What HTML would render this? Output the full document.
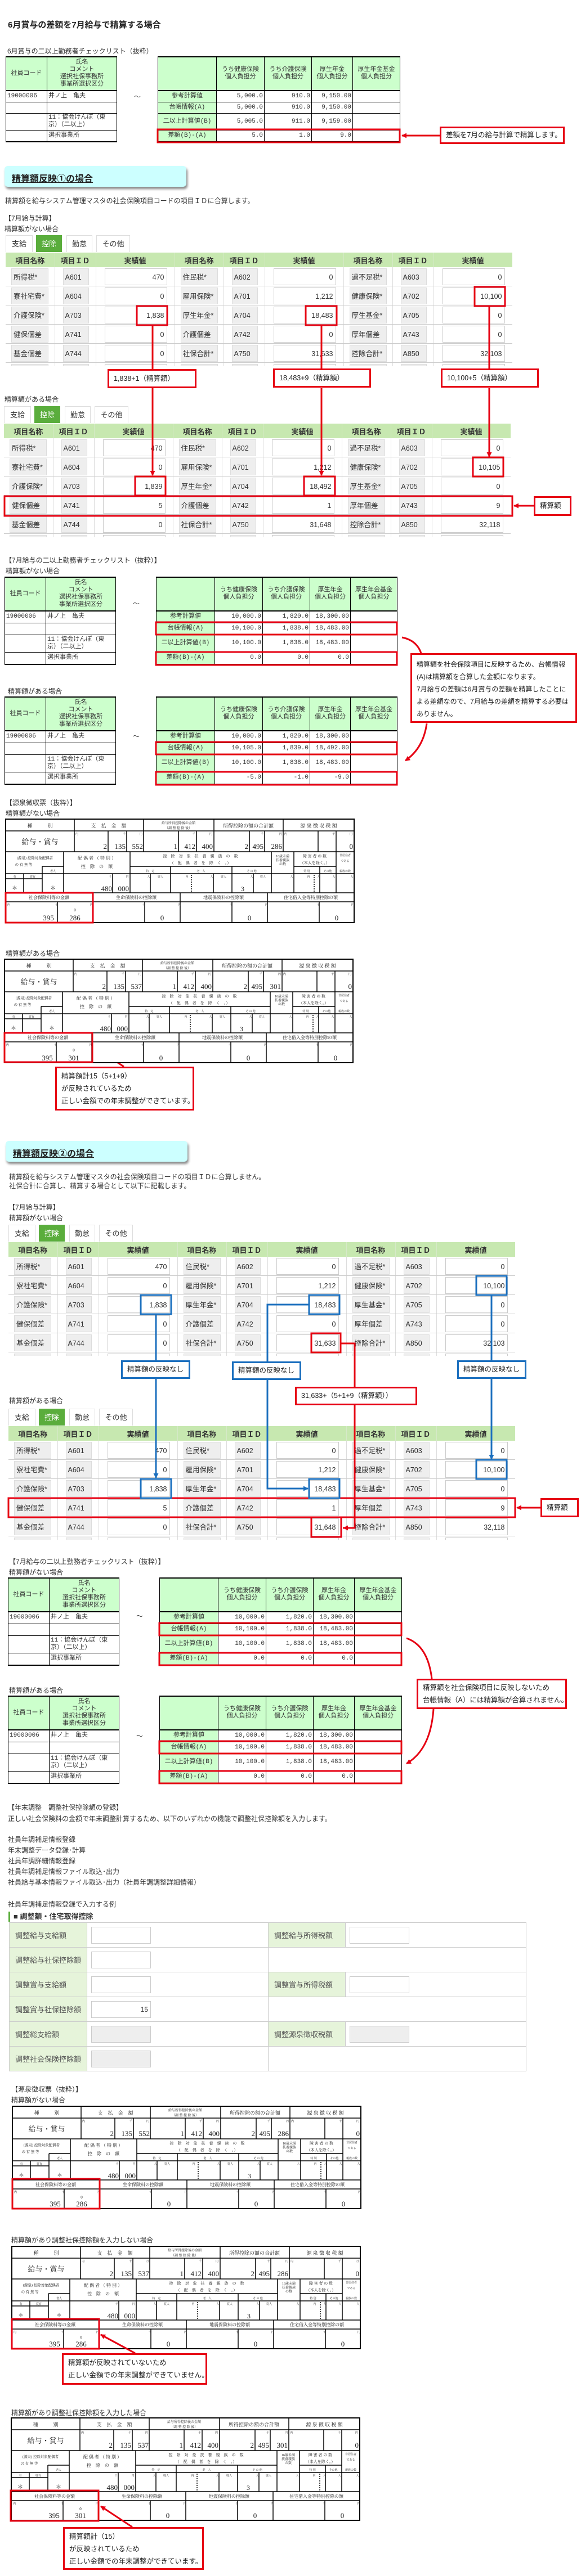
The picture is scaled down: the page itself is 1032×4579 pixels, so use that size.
<!DOCTYPE html>
<html><head><meta charset="utf-8">
<style>
body{margin:0;background:#fff}
#p{position:relative;width:1032px;height:4579px;overflow:hidden;font-family:"Liberation Sans","Noto Sans CJK JP",sans-serif;color:#333}
.a{position:absolute}
.t{position:absolute;font-size:12px;line-height:14px;white-space:nowrap;color:#333}
.h1{position:absolute;font-size:15px;font-weight:bold;color:#222;white-space:nowrap}
.sec{position:absolute;width:323px;height:37px;background:#ccffff;border-radius:6px;box-shadow:2px 4px 4px #888}
.sec span{position:absolute;left:13px;top:9px;font-size:16px;font-weight:bold;text-decoration:underline;color:#222}
.g{position:absolute;width:900px;height:233px;overflow:hidden}
.tb{position:absolute;top:0;height:30px;border:1px solid #ddd;border-bottom:none;box-sizing:border-box;font-size:13px;line-height:29px;text-align:center;background:#fff}
.tb.on{background:#5aad3c;color:#fff;border-color:#5aad3c}
.g table{position:absolute;top:31px;left:0;border-collapse:collapse;table-layout:fixed;width:900px;font-size:12.5px}
.g th{background:#c7e8b0;height:26px;font-weight:bold;font-size:13px;padding:0;border-right:1px solid #d6e9c8;color:#333}
.g td{height:33px;padding:0;border-bottom:1px solid #ccc;border-right:1px solid #ddd}
.g b{display:block;font-weight:normal;height:30px;line-height:30px;box-sizing:border-box;background:#eee;border:1px solid #ddd;padding-left:3px;white-space:nowrap;overflow:hidden}
.g .n{margin-left:10px;width:66px}
.g .i{margin-left:14px;width:46px}
.g .v{margin-left:15px;width:111px;background:#fff;border-color:#ccc;text-align:right;padding-right:4px}
.cl{position:absolute;border-collapse:collapse;table-layout:fixed;font-family:"Liberation Mono","Noto Sans CJK JP",monospace;font-size:11px;border-top:2px solid #000;border-bottom:2px solid #000}
.cl td{border:1px solid #000;padding:0 2px;line-height:13px;white-space:nowrap;overflow:hidden}
.cl .hd td{background:#ccffcc;text-align:center;border-bottom:2px solid #000}
.cl .lb{background:#ccffcc;text-align:center}
.cl .r{text-align:right}
.co{position:absolute;border:3px solid #e60012;background:#fff;font-size:12.5px;box-sizing:border-box;padding:0 8px;line-height:22px;white-space:nowrap;color:#222}
.cb{position:absolute;border:3px solid #1b6fbe;background:#fff;font-size:12.5px;box-sizing:border-box;padding:0 8px;line-height:27px;white-space:nowrap;color:#222}
.fm{position:absolute;border-collapse:collapse;table-layout:fixed;width:918px;font-size:13px}
.fm th{background:#e6f4da;color:#555;font-weight:normal;text-align:left;padding-left:10px;height:41px;border:1px solid #ccc}
.fm td{border:1px solid #ccc;padding:0}
.fm i{display:block;width:106px;height:30px;border:1px solid #ccc;margin-left:7px;box-sizing:border-box;font-style:normal;text-align:right;padding-right:4px;line-height:28px;font-size:12px}
.fm i.gr{background:#eee}
svg text{font-family:"Liberation Serif","Noto Serif CJK SC",serif;fill:#222}
</style></head><body><div id="p">

<div class="h1" style="left:14px;top:33px">6月賞与の差額を7月給与で精算する場合</div>
<div class="t" style="left:13px;top:84px">6月賞与の二以上勤務者チェックリスト（抜粋）</div>

<!-- pair0 -->
<table class="cl" style="left:10px;top:100px;width:197px"><col style="width:73px"><col style="width:124px">
<tr class="hd" style="height:60px"><td>社員コード</td><td>氏名<br>コメント<br>選択社保事務所<br>事業所選択区分</td></tr>
<tr style="height:20px"><td>19000006</td><td>井ノ上　亀夫</td></tr><tr style="height:20px"><td></td><td></td></tr>
<tr style="height:30px"><td></td><td>11：協会けんぽ（東<br>京）（二以上）</td></tr><tr style="height:21px"><td></td><td>選択事業所</td></tr></table>
<div class="t" style="left:238px;top:165px">～</div>
<table class="cl" style="left:280px;top:100px;width:430px"><col style="width:104px"><col style="width:85px"><col style="width:84px"><col style="width:73px"><col style="width:84px">
<tr class="hd" style="height:60px"><td></td><td>うち健康保険<br>個人負担分</td><td>うち介護保険<br>個人負担分</td><td>厚生年金<br>個人負担分</td><td>厚生年金基金<br>個人負担分</td></tr>
<tr style="height:20px"><td class="lb">参考計算値</td><td class="r">5,000.0</td><td class="r">910.0</td><td class="r">9,150.00</td><td></td></tr>
<tr style="height:20px"><td class="lb">台帳情報(A)</td><td class="r">5,000.0</td><td class="r">910.0</td><td class="r">9,150.00</td><td></td></tr>
<tr style="height:30px"><td class="lb">二以上計算値(B)</td><td class="r">5,005.0</td><td class="r">911.0</td><td class="r">9,159.00</td><td></td></tr>
<tr style="height:21px"><td class="lb">差額(B)-(A)</td><td class="r">5.0</td><td class="r">1.0</td><td class="r">9.0</td><td></td></tr></table>

<div class="sec" style="left:8px;top:295px"><span>精算額反映①の場合</span></div>
<div class="t" style="left:9px;top:350px">精算額を給与システム管理マスタの社会保険項目コードの項目ＩＤに合算します。</div>
<div class="t" style="left:8px;top:381px">【7月給与計算】</div>
<div class="t" style="left:8px;top:400px">精算額がない場合</div>

<!-- grid1 -->
<div class="g" style="left:10px;top:418px">
<div class="tb" style="left:0;width:48px">支給</div><div class="tb on" style="left:54px;width:46px">控除</div><div class="tb" style="left:108px;width:46px">勤怠</div><div class="tb" style="left:161px;width:60px">その他</div>
<table><col style="width:87px"><col style="width:73px"><col style="width:140px"><col style="width:87px"><col style="width:73px"><col style="width:140px"><col style="width:87px"><col style="width:73px"><col style="width:140px">
<tr><th>項目名称</th><th>項目ＩＤ</th><th>実績値</th><th>項目名称</th><th>項目ＩＤ</th><th>実績値</th><th>項目名称</th><th>項目ＩＤ</th><th>実績値</th></tr>
<tr><td><b class="n">所得税*</b></td><td><b class="i">A601</b></td><td><b class="v">470</b></td><td><b class="n">住民税*</b></td><td><b class="i">A602</b></td><td><b class="v">0</b></td><td><b class="n">過不足税*</b></td><td><b class="i">A603</b></td><td><b class="v">0</b></td></tr>
<tr><td><b class="n">寮社宅費*</b></td><td><b class="i">A604</b></td><td><b class="v">0</b></td><td><b class="n">雇用保険*</b></td><td><b class="i">A701</b></td><td><b class="v">1,212</b></td><td><b class="n">健康保険*</b></td><td><b class="i">A702</b></td><td><b class="v">10,100</b></td></tr>
<tr><td><b class="n">介護保険*</b></td><td><b class="i">A703</b></td><td><b class="v">1,838</b></td><td><b class="n">厚生年金*</b></td><td><b class="i">A704</b></td><td><b class="v">18,483</b></td><td><b class="n">厚生基金*</b></td><td><b class="i">A705</b></td><td><b class="v">0</b></td></tr>
<tr><td><b class="n">健保個差</b></td><td><b class="i">A741</b></td><td><b class="v">0</b></td><td><b class="n">介護個差</b></td><td><b class="i">A742</b></td><td><b class="v">0</b></td><td><b class="n">厚年個差</b></td><td><b class="i">A743</b></td><td><b class="v">0</b></td></tr>
<tr><td><b class="n">基金個差</b></td><td><b class="i">A744</b></td><td><b class="v">0</b></td><td><b class="n">社保合計*</b></td><td><b class="i">A750</b></td><td><b class="v">31,633</b></td><td><b class="n">控除合計*</b></td><td><b class="i">A850</b></td><td><b class="v">32,103</b></td></tr>
<tr><td><b class="n"></b></td><td><b class="i"></b></td><td><b class="v"></b></td><td><b class="n"></b></td><td><b class="i"></b></td><td><b class="v"></b></td><td><b class="n"></b></td><td><b class="i"></b></td><td><b class="v"></b></td></tr>
</table></div>

<div class="t" style="left:8px;top:703px">精算額がある場合</div>
<!-- grid2 -->
<div class="g" style="left:7px;top:722px">
<div class="tb" style="left:0;width:48px">支給</div><div class="tb on" style="left:54px;width:46px">控除</div><div class="tb" style="left:108px;width:46px">勤怠</div><div class="tb" style="left:161px;width:60px">その他</div>
<table><col style="width:87px"><col style="width:73px"><col style="width:140px"><col style="width:87px"><col style="width:73px"><col style="width:140px"><col style="width:87px"><col style="width:73px"><col style="width:140px">
<tr><th>項目名称</th><th>項目ＩＤ</th><th>実績値</th><th>項目名称</th><th>項目ＩＤ</th><th>実績値</th><th>項目名称</th><th>項目ＩＤ</th><th>実績値</th></tr>
<tr><td><b class="n">所得税*</b></td><td><b class="i">A601</b></td><td><b class="v">470</b></td><td><b class="n">住民税*</b></td><td><b class="i">A602</b></td><td><b class="v">0</b></td><td><b class="n">過不足税*</b></td><td><b class="i">A603</b></td><td><b class="v">0</b></td></tr>
<tr><td><b class="n">寮社宅費*</b></td><td><b class="i">A604</b></td><td><b class="v">0</b></td><td><b class="n">雇用保険*</b></td><td><b class="i">A701</b></td><td><b class="v">1,212</b></td><td><b class="n">健康保険*</b></td><td><b class="i">A702</b></td><td><b class="v">10,105</b></td></tr>
<tr><td><b class="n">介護保険*</b></td><td><b class="i">A703</b></td><td><b class="v">1,839</b></td><td><b class="n">厚生年金*</b></td><td><b class="i">A704</b></td><td><b class="v">18,492</b></td><td><b class="n">厚生基金*</b></td><td><b class="i">A705</b></td><td><b class="v">0</b></td></tr>
<tr><td><b class="n">健保個差</b></td><td><b class="i">A741</b></td><td><b class="v">5</b></td><td><b class="n">介護個差</b></td><td><b class="i">A742</b></td><td><b class="v">1</b></td><td><b class="n">厚年個差</b></td><td><b class="i">A743</b></td><td><b class="v">9</b></td></tr>
<tr><td><b class="n">基金個差</b></td><td><b class="i">A744</b></td><td><b class="v">0</b></td><td><b class="n">社保合計*</b></td><td><b class="i">A750</b></td><td><b class="v">31,648</b></td><td><b class="n">控除合計*</b></td><td><b class="i">A850</b></td><td><b class="v">32,118</b></td></tr>
<tr><td><b class="n"></b></td><td><b class="i"></b></td><td><b class="v"></b></td><td><b class="n"></b></td><td><b class="i"></b></td><td><b class="v"></b></td><td><b class="n"></b></td><td><b class="i"></b></td><td><b class="v"></b></td></tr>
</table></div>

<div class="t" style="left:9px;top:989px">【7月給与の二以上勤務者チェックリスト（抜粋）】</div>
<div class="t" style="left:10px;top:1008px">精算額がない場合</div>
<!-- pair1 -->
<table class="cl" style="left:8px;top:1025px;width:197px"><col style="width:73px"><col style="width:124px">
<tr class="hd" style="height:60px"><td>社員コード</td><td>氏名<br>コメント<br>選択社保事務所<br>事業所選択区分</td></tr>
<tr style="height:21px"><td>19000006</td><td>井ノ上　亀夫</td></tr><tr style="height:21px"><td></td><td></td></tr>
<tr style="height:31px"><td></td><td>11：協会けんぽ（東<br>京）（二以上）</td></tr><tr style="height:22px"><td></td><td>選択事業所</td></tr></table>
<div class="t" style="left:236px;top:1066px">～</div>
<table class="cl" style="left:277px;top:1025px;width:428px"><col style="width:104px"><col style="width:85px"><col style="width:84px"><col style="width:72px"><col style="width:83px">
<tr class="hd" style="height:60px"><td></td><td>うち健康保険<br>個人負担分</td><td>うち介護保険<br>個人負担分</td><td>厚生年金<br>個人負担分</td><td>厚生年金基金<br>個人負担分</td></tr>
<tr style="height:21px"><td class="lb">参考計算値</td><td class="r">10,000.0</td><td class="r">1,820.0</td><td class="r">18,300.00</td><td></td></tr>
<tr style="height:21px"><td class="lb">台帳情報(A)</td><td class="r">10,100.0</td><td class="r">1,838.0</td><td class="r">18,483.00</td><td></td></tr>
<tr style="height:31px"><td class="lb">二以上計算値(B)</td><td class="r">10,100.0</td><td class="r">1,838.0</td><td class="r">18,483.00</td><td></td></tr>
<tr style="height:22px"><td class="lb">差額(B)-(A)</td><td class="r">0.0</td><td class="r">0.0</td><td class="r">0.0</td><td></td></tr></table>

<div class="t" style="left:14px;top:1222px">精算額がある場合</div>
<!-- pair2 -->
<table class="cl" style="left:8px;top:1238px;width:197px"><col style="width:73px"><col style="width:124px">
<tr class="hd" style="height:60px"><td>社員コード</td><td>氏名<br>コメント<br>選択社保事務所<br>事業所選択区分</td></tr>
<tr style="height:21px"><td>19000006</td><td>井ノ上　亀夫</td></tr><tr style="height:21px"><td></td><td></td></tr>
<tr style="height:31px"><td></td><td>11：協会けんぽ（東<br>京）（二以上）</td></tr><tr style="height:22px"><td></td><td>選択事業所</td></tr></table>
<div class="t" style="left:236px;top:1302px">～</div>
<table class="cl" style="left:277px;top:1238px;width:428px"><col style="width:104px"><col style="width:85px"><col style="width:84px"><col style="width:72px"><col style="width:83px">
<tr class="hd" style="height:60px"><td></td><td>うち健康保険<br>個人負担分</td><td>うち介護保険<br>個人負担分</td><td>厚生年金<br>個人負担分</td><td>厚生年金基金<br>個人負担分</td></tr>
<tr style="height:21px"><td class="lb">参考計算値</td><td class="r">10,000.0</td><td class="r">1,820.0</td><td class="r">18,300.00</td><td></td></tr>
<tr style="height:21px"><td class="lb">台帳情報(A)</td><td class="r">10,105.0</td><td class="r">1,839.0</td><td class="r">18,492.00</td><td></td></tr>
<tr style="height:31px"><td class="lb">二以上計算値(B)</td><td class="r">10,100.0</td><td class="r">1,838.0</td><td class="r">18,483.00</td><td></td></tr>
<tr style="height:22px"><td class="lb">差額(B)-(A)</td><td class="r">-5.0</td><td class="r">-1.0</td><td class="r">-9.0</td><td></td></tr></table>

<div class="t" style="left:10px;top:1420px">【源泉徴収票（抜粋）】</div>
<div class="t" style="left:10px;top:1439px">精算額がない場合</div>
<div class="t" style="left:10px;top:1688px">精算額がある場合</div>

<div class="sec" style="left:10px;top:2028px"><span>精算額反映②の場合</span></div>
<div class="t" style="left:16px;top:2085px">精算額を給与システム管理マスタの社会保険項目コードの項目ＩＤに合算しません。</div>
<div class="t" style="left:16px;top:2101px">社保合計に合算し、精算する場合として以下に記載します。</div>
<div class="t" style="left:15px;top:2139px">【7月給与計算】</div>
<div class="t" style="left:16px;top:2158px">精算額がない場合</div>

<!-- grid3 -->
<div class="g" style="left:15px;top:2177px">
<div class="tb" style="left:0;width:48px">支給</div><div class="tb on" style="left:54px;width:46px">控除</div><div class="tb" style="left:108px;width:46px">勤怠</div><div class="tb" style="left:161px;width:60px">その他</div>
<table><col style="width:87px"><col style="width:73px"><col style="width:140px"><col style="width:87px"><col style="width:73px"><col style="width:140px"><col style="width:87px"><col style="width:73px"><col style="width:140px">
<tr><th>項目名称</th><th>項目ＩＤ</th><th>実績値</th><th>項目名称</th><th>項目ＩＤ</th><th>実績値</th><th>項目名称</th><th>項目ＩＤ</th><th>実績値</th></tr>
<tr><td><b class="n">所得税*</b></td><td><b class="i">A601</b></td><td><b class="v">470</b></td><td><b class="n">住民税*</b></td><td><b class="i">A602</b></td><td><b class="v">0</b></td><td><b class="n">過不足税*</b></td><td><b class="i">A603</b></td><td><b class="v">0</b></td></tr>
<tr><td><b class="n">寮社宅費*</b></td><td><b class="i">A604</b></td><td><b class="v">0</b></td><td><b class="n">雇用保険*</b></td><td><b class="i">A701</b></td><td><b class="v">1,212</b></td><td><b class="n">健康保険*</b></td><td><b class="i">A702</b></td><td><b class="v">10,100</b></td></tr>
<tr><td><b class="n">介護保険*</b></td><td><b class="i">A703</b></td><td><b class="v">1,838</b></td><td><b class="n">厚生年金*</b></td><td><b class="i">A704</b></td><td><b class="v">18,483</b></td><td><b class="n">厚生基金*</b></td><td><b class="i">A705</b></td><td><b class="v">0</b></td></tr>
<tr><td><b class="n">健保個差</b></td><td><b class="i">A741</b></td><td><b class="v">0</b></td><td><b class="n">介護個差</b></td><td><b class="i">A742</b></td><td><b class="v">0</b></td><td><b class="n">厚年個差</b></td><td><b class="i">A743</b></td><td><b class="v">0</b></td></tr>
<tr><td><b class="n">基金個差</b></td><td><b class="i">A744</b></td><td><b class="v">0</b></td><td><b class="n">社保合計*</b></td><td><b class="i">A750</b></td><td><b class="v">31,633</b></td><td><b class="n">控除合計*</b></td><td><b class="i">A850</b></td><td><b class="v">32,103</b></td></tr>
<tr><td><b class="n"></b></td><td><b class="i"></b></td><td><b class="v"></b></td><td><b class="n"></b></td><td><b class="i"></b></td><td><b class="v"></b></td><td><b class="n"></b></td><td><b class="i"></b></td><td><b class="v"></b></td></tr>
</table></div>

<div class="t" style="left:16px;top:2483px">精算額がある場合</div>
<!-- grid4 -->
<div class="g" style="left:15px;top:2504px">
<div class="tb" style="left:0;width:48px">支給</div><div class="tb on" style="left:54px;width:46px">控除</div><div class="tb" style="left:108px;width:46px">勤怠</div><div class="tb" style="left:161px;width:60px">その他</div>
<table><col style="width:87px"><col style="width:73px"><col style="width:140px"><col style="width:87px"><col style="width:73px"><col style="width:140px"><col style="width:87px"><col style="width:73px"><col style="width:140px">
<tr><th>項目名称</th><th>項目ＩＤ</th><th>実績値</th><th>項目名称</th><th>項目ＩＤ</th><th>実績値</th><th>項目名称</th><th>項目ＩＤ</th><th>実績値</th></tr>
<tr><td><b class="n">所得税*</b></td><td><b class="i">A601</b></td><td><b class="v">470</b></td><td><b class="n">住民税*</b></td><td><b class="i">A602</b></td><td><b class="v">0</b></td><td><b class="n">過不足税*</b></td><td><b class="i">A603</b></td><td><b class="v">0</b></td></tr>
<tr><td><b class="n">寮社宅費*</b></td><td><b class="i">A604</b></td><td><b class="v">0</b></td><td><b class="n">雇用保険*</b></td><td><b class="i">A701</b></td><td><b class="v">1,212</b></td><td><b class="n">健康保険*</b></td><td><b class="i">A702</b></td><td><b class="v">10,100</b></td></tr>
<tr><td><b class="n">介護保険*</b></td><td><b class="i">A703</b></td><td><b class="v">1,838</b></td><td><b class="n">厚生年金*</b></td><td><b class="i">A704</b></td><td><b class="v">18,483</b></td><td><b class="n">厚生基金*</b></td><td><b class="i">A705</b></td><td><b class="v">0</b></td></tr>
<tr><td><b class="n">健保個差</b></td><td><b class="i">A741</b></td><td><b class="v">5</b></td><td><b class="n">介護個差</b></td><td><b class="i">A742</b></td><td><b class="v">1</b></td><td><b class="n">厚年個差</b></td><td><b class="i">A743</b></td><td><b class="v">9</b></td></tr>
<tr><td><b class="n">基金個差</b></td><td><b class="i">A744</b></td><td><b class="v">0</b></td><td><b class="n">社保合計*</b></td><td><b class="i">A750</b></td><td><b class="v">31,648</b></td><td><b class="n">控除合計*</b></td><td><b class="i">A850</b></td><td><b class="v">32,118</b></td></tr>
<tr><td><b class="n"></b></td><td><b class="i"></b></td><td><b class="v"></b></td><td><b class="n"></b></td><td><b class="i"></b></td><td><b class="v"></b></td><td><b class="n"></b></td><td><b class="i"></b></td><td><b class="v"></b></td></tr>
</table></div>

<div class="t" style="left:16px;top:2769px">【7月給与の二以上勤務者チェックリスト（抜粋）】</div>
<div class="t" style="left:16px;top:2788px">精算額がない場合</div>
<!-- pair3 -->
<table class="cl" style="left:14px;top:2804px;width:197px"><col style="width:73px"><col style="width:124px">
<tr class="hd" style="height:60px"><td>社員コード</td><td>氏名<br>コメント<br>選択社保事務所<br>事業所選択区分</td></tr>
<tr style="height:21px"><td>19000006</td><td>井ノ上　亀夫</td></tr><tr style="height:21px"><td></td><td></td></tr>
<tr style="height:31px"><td></td><td>11：協会けんぽ（東<br>京）（二以上）</td></tr><tr style="height:22px"><td></td><td>選択事業所</td></tr></table>
<div class="t" style="left:242px;top:2866px">～</div>
<table class="cl" style="left:283px;top:2804px;width:430px"><col style="width:104px"><col style="width:85px"><col style="width:84px"><col style="width:73px"><col style="width:84px">
<tr class="hd" style="height:60px"><td></td><td>うち健康保険<br>個人負担分</td><td>うち介護保険<br>個人負担分</td><td>厚生年金<br>個人負担分</td><td>厚生年金基金<br>個人負担分</td></tr>
<tr style="height:21px"><td class="lb">参考計算値</td><td class="r">10,000.0</td><td class="r">1,820.0</td><td class="r">18,300.00</td><td></td></tr>
<tr style="height:21px"><td class="lb">台帳情報(A)</td><td class="r">10,100.0</td><td class="r">1,838.0</td><td class="r">18,483.00</td><td></td></tr>
<tr style="height:31px"><td class="lb">二以上計算値(B)</td><td class="r">10,100.0</td><td class="r">1,838.0</td><td class="r">18,483.00</td><td></td></tr>
<tr style="height:22px"><td class="lb">差額(B)-(A)</td><td class="r">0.0</td><td class="r">0.0</td><td class="r">0.0</td><td></td></tr></table>

<div class="t" style="left:16px;top:2998px">精算額がある場合</div>
<!-- pair4 -->
<table class="cl" style="left:14px;top:3014px;width:197px"><col style="width:73px"><col style="width:124px">
<tr class="hd" style="height:60px"><td>社員コード</td><td>氏名<br>コメント<br>選択社保事務所<br>事業所選択区分</td></tr>
<tr style="height:21px"><td>19000006</td><td>井ノ上　亀夫</td></tr><tr style="height:21px"><td></td><td></td></tr>
<tr style="height:31px"><td></td><td>11：協会けんぽ（東<br>京）（二以上）</td></tr><tr style="height:22px"><td></td><td>選択事業所</td></tr></table>
<div class="t" style="left:242px;top:3079px">～</div>
<table class="cl" style="left:283px;top:3014px;width:430px"><col style="width:104px"><col style="width:85px"><col style="width:84px"><col style="width:73px"><col style="width:84px">
<tr class="hd" style="height:60px"><td></td><td>うち健康保険<br>個人負担分</td><td>うち介護保険<br>個人負担分</td><td>厚生年金<br>個人負担分</td><td>厚生年金基金<br>個人負担分</td></tr>
<tr style="height:21px"><td class="lb">参考計算値</td><td class="r">10,000.0</td><td class="r">1,820.0</td><td class="r">18,300.00</td><td></td></tr>
<tr style="height:21px"><td class="lb">台帳情報(A)</td><td class="r">10,100.0</td><td class="r">1,838.0</td><td class="r">18,483.00</td><td></td></tr>
<tr style="height:31px"><td class="lb">二以上計算値(B)</td><td class="r">10,100.0</td><td class="r">1,838.0</td><td class="r">18,483.00</td><td></td></tr>
<tr style="height:22px"><td class="lb">差額(B)-(A)</td><td class="r">0.0</td><td class="r">0.0</td><td class="r">0.0</td><td></td></tr></table>

<div class="t" style="left:14px;top:3206px">【年末調整　調整社保控除額の登録】</div>
<div class="t" style="left:14px;top:3226px">正しい社会保険料の金額で年末調整計算するため、以下のいずれかの機能で調整社保控除額を入力します。</div>
<div class="t" style="left:14px;top:3263px">社員年調補足情報登録</div>
<div class="t" style="left:14px;top:3282px">年末調整データ登録･計算</div>
<div class="t" style="left:14px;top:3301px">社員年調詳細情報登録</div>
<div class="t" style="left:14px;top:3320px">社員年調補足情報ファイル取込･出力</div>
<div class="t" style="left:14px;top:3339px">社員給与基本情報ファイル取込･出力（社員年調調整詳細情報）</div>
<div class="t" style="left:14px;top:3378px">社員年調補足情報登録で入力する例</div>
<div class="a" style="left:15px;top:3398px;width:3px;height:18px;background:#5aad3c"></div>
<div class="t" style="left:24px;top:3400px;font-size:13px;font-weight:bold">■ 調整額・住宅取得控除</div>
<table class="fm" style="left:16px;top:3417px"><col style="width:138px"><col style="width:322px"><col style="width:137px"><col style="width:321px">
<tr><th>調整給与支給額</th><td><i></i></td><th>調整給与所得税額</th><td><i></i></td></tr>
<tr><th>調整給与社保控除額</th><td><i></i></td><td colspan="2"></td></tr>
<tr><th>調整賞与支給額</th><td><i></i></td><th>調整賞与所得税額</th><td><i></i></td></tr>
<tr><th>調整賞与社保控除額</th><td><i>15</i></td><td colspan="2"></td></tr>
<tr><th>調整総支給額</th><td><i class="gr"></i></td><th>調整源泉徴収税額</th><td><i class="gr"></i></td></tr>
<tr><th>調整社会保険控除額</th><td><i class="gr"></i></td><td colspan="2"></td></tr>
</table>

<div class="t" style="left:20px;top:3707px">【源泉徴収票（抜粋）】</div>
<div class="t" style="left:20px;top:3726px">精算額がない場合</div>
<div class="t" style="left:20px;top:3975px">精算額があり調整社保控除額を入力しない場合</div>
<div class="t" style="left:20px;top:4282px">精算額があり調整社保控除額を入力した場合</div>

<svg class="a" style="left:0;top:0" width="1032" height="4579">
<defs>
<marker id="ar" markerWidth="9" markerHeight="9" refX="8" refY="4.5" orient="auto" markerUnits="userSpaceOnUse"><path d="M0,0L9,4.5L0,9z" fill="#e60012"/></marker>
<marker id="ab" markerWidth="9" markerHeight="9" refX="8" refY="4.5" orient="auto" markerUnits="userSpaceOnUse"><path d="M0,0L9,4.5L0,9z" fill="#1b6fbe"/></marker>
<g id="gsx"></g>
</defs>
<g fill="none" stroke="#e60012" stroke-width="3">
<rect x="280" y="230" width="430" height="23"/>
<path d="M781 241H714" marker-end="url(#ar)"/>
<rect x="243" y="544" width="54" height="34"/><rect x="543" y="544" width="55" height="34"/><rect x="843" y="510" width="54" height="34"/>
<path d="M271 578V656M571 578V656M869 544V656"/>
<path d="M271 690V845" marker-end="url(#ar)"/><path d="M571 690V845" marker-end="url(#ar)"/><path d="M869 690V812" marker-end="url(#ar)"/>
<rect x="240" y="847" width="54" height="34"/><rect x="540" y="847" width="55" height="34"/><rect x="840" y="813" width="54" height="34"/>
<rect x="8" y="882" width="902" height="35"/>
<path d="M948 899H913" marker-end="url(#ar)"/>
<rect x="277" y="1106" width="428" height="22"/><rect x="277" y="1159" width="428" height="23"/>
<path d="M714 1133Q740 1138 748 1161"/><path d="M758 1286Q752 1330 720 1352" marker-end="url(#ar)"/>
<rect x="277" y="1319" width="428" height="22"/><rect x="277" y="1372" width="428" height="23"/>
<rect x="10" y="1587" width="155" height="53"/><rect x="8" y="1836" width="156" height="52"/>
<path d="M220 1896L168 1862" marker-end="url(#ar)"/>
<rect x="553" y="2370" width="52" height="34"/>
<path d="M605 2388H630V2465M630 2498V2716H609" /><path d="M630 2716H610" marker-end="url(#ar)"/>
<rect x="553" y="2697" width="53" height="35"/>
<rect x="15" y="2663" width="900" height="34"/>
<path d="M960 2680H918" marker-end="url(#ar)"/>
<rect x="283" y="2885" width="430" height="22"/><rect x="283" y="2938" width="430" height="22"/>
<path d="M722 2912Q760 2925 767 2984"/><path d="M770 3038Q765 3110 722 3135" marker-end="url(#ar)"/>
<rect x="283" y="3095" width="430" height="22"/><rect x="283" y="3148" width="430" height="22"/>
</g>
<g fill="none" stroke="#1b6fbe" stroke-width="3">
<rect x="846" y="2268" width="54" height="34"/><rect x="250" y="2302" width="54" height="34"/><rect x="549" y="2302" width="54" height="34"/>
<path d="M277 2336V2418M873 2302V2418M549 2319H475V2420"/>
<path d="M277 2451V2627" marker-end="url(#ab)"/><path d="M873 2451V2594" marker-end="url(#ab)"/>
<path d="M475 2453V2646H547" marker-end="url(#ab)"/>
<rect x="846" y="2595" width="54" height="34"/><rect x="250" y="2629" width="54" height="34"/><rect x="549" y="2629" width="54" height="34"/>
</g>

<!-- gensen tables -->
<g transform="translate(10,1456)">
<rect width="619" height="184" fill="#fff" stroke="#000" stroke-width="2"/>
<path d="M0 21H619M0 58H619M0 97H619M0 131H619M0 147H619M122 0V58M245 0V58M370 0V58M493 0V58M182 21V58M215 21V58M307 21V58M339 21V58M433 21V58M460 21V58M555 21V58M587 21V58M103 58V131M221 58V131M472 58V131M512 58V131M587 58V131M65 84H103M65 84V131M0 106H65M32 97V131M221 84H472M293 84V131M402 84V131M512 84H587M558 84V131M190 97V131M257 97V131M369 97V131M440 97V131M155 131V184M310 131V184M465 131V184M92 147V184M247 147V184M402 147V184M557 147V184" stroke="#000" stroke-width="1.5" fill="none"/>
<path d="M330 99V131M548 99V131" stroke="#000" stroke-dasharray="2 2" stroke-width="1.5"/>
<g text-anchor="middle" font-size="9"><text x="61" y="15">種　　　別</text><text x="183" y="15">支　払　金　額</text><text x="431" y="15">所得控除の額の合計額</text><text x="556" y="15">源 泉 徴 収 税 額</text></g>
<g text-anchor="middle" font-size="6"><text x="307" y="9">給与所得控除後の金額</text><text x="307" y="18">（調 整 控 除 後）</text></g>
<text x="61" y="45" font-size="13" text-anchor="middle">給与・賞与</text>
<g font-size="5"><text x="124" y="28">内</text><text x="495" y="28">内</text><text x="208" y="28">千</text><text x="332" y="28">千</text><text x="453" y="28">千</text><text x="580" y="28">千</text><text x="238" y="28">円</text><text x="362" y="28">円</text><text x="486" y="28">円</text><text x="611" y="28">円</text></g>
<g font-size="13" text-anchor="end"><text x="180" y="53">2</text><text x="213" y="53">135</text><text x="244" y="53">552</text><text x="305" y="53">1</text><text x="337" y="53">412</text><text x="368" y="53">400</text><text x="431" y="53">2</text><text x="458" y="53">495</text><text x="491" y="53">286</text><text x="617" y="53">0</text></g>
<g text-anchor="middle" font-size="6.5"><text x="52" y="71">(源泉) 控除対象配偶者</text><text x="32" y="83">の 有 無 等</text><text x="162" y="72" font-size="8">配 偶 者 （ 特 別 ）</text><text x="162" y="87" font-size="8">控　除　の　額</text><text x="346" y="68" font-size="7">控　除　対　象　扶　養　親　族　の　数</text><text x="346" y="80" font-size="7">（　配　偶　者　を　除　く　。）</text><text x="549" y="68" font-size="7">障 害 者 の 数</text><text x="549" y="80" font-size="7">（本人を除く。）</text><text x="492" y="68" font-size="6">16歳未満</text><text x="492" y="75" font-size="6">扶養親族</text><text x="492" y="82" font-size="6">の数</text></g>
<g text-anchor="middle" font-size="5"><text x="84" y="94">老人</text><text x="257" y="94">特　定</text><text x="347" y="94">老　人</text><text x="437" y="94">そ の 他</text><text x="535" y="94">特 別</text><text x="572" y="94">その他</text><text x="603" y="66">非居住者</text><text x="603" y="76">である</text><text x="603" y="94">親族の数</text><text x="16" y="104">有</text><text x="48" y="104">従有</text><text x="186" y="104">千</text><text x="216" y="104">円</text><text x="254" y="104">人</text><text x="275" y="104">従人</text><text x="322" y="104">内</text><text x="366" y="104">人</text><text x="387" y="104">従人</text><text x="437" y="104">人</text><text x="457" y="104">従人</text><text x="508" y="104">人</text><text x="538" y="104">内</text><text x="556" y="104">人</text><text x="583" y="104">人</text><text x="615" y="104">人</text></g>
<g text-anchor="middle" font-size="10"><text x="16" y="126">＊</text><text x="84" y="126">＊</text></g>
<g font-size="13" text-anchor="end"><text x="189" y="128">480</text><text x="219" y="128">000</text></g>
<text x="421" y="128" font-size="12" text-anchor="middle">3</text>
<g text-anchor="middle" font-size="8"><text x="77" y="142">社会保険料等の金額</text><text x="232" y="142">生命保険料の控除額</text><text x="387" y="142">地震保険料の控除額</text><text x="542" y="142">住宅借入金等特別控除の額</text></g>
<g font-size="5"><text x="3" y="154">内</text><text x="88" y="154">千</text><text x="150" y="154">円</text><text x="243" y="154">千</text><text x="306" y="154">円</text><text x="398" y="154">千</text><text x="461" y="154">円</text><text x="553" y="154">千</text><text x="614" y="154">円</text></g>
<text x="123" y="164" font-size="7" text-anchor="middle">0</text>
<g font-size="13" text-anchor="middle"><text x="76" y="180">395</text><text x="123" y="180">286</text><text x="278" y="180">0</text><text x="433" y="180">0</text><text x="588" y="180">0</text></g>
</g>

<g transform="translate(8,1705)">
<rect width="619" height="184" fill="#fff" stroke="#000" stroke-width="2"/>
<path d="M0 21H619M0 58H619M0 97H619M0 131H619M0 147H619M122 0V58M245 0V58M370 0V58M493 0V58M182 21V58M215 21V58M307 21V58M339 21V58M433 21V58M460 21V58M555 21V58M587 21V58M103 58V131M221 58V131M472 58V131M512 58V131M587 58V131M65 84H103M65 84V131M0 106H65M32 97V131M221 84H472M293 84V131M402 84V131M512 84H587M558 84V131M190 97V131M257 97V131M369 97V131M440 97V131M155 131V184M310 131V184M465 131V184M92 147V184M247 147V184M402 147V184M557 147V184" stroke="#000" stroke-width="1.5" fill="none"/>
<path d="M330 99V131M548 99V131" stroke="#000" stroke-dasharray="2 2" stroke-width="1.5"/>
<g text-anchor="middle" font-size="9"><text x="61" y="15">種　　　別</text><text x="183" y="15">支　払　金　額</text><text x="431" y="15">所得控除の額の合計額</text><text x="556" y="15">源 泉 徴 収 税 額</text></g>
<g text-anchor="middle" font-size="6"><text x="307" y="9">給与所得控除後の金額</text><text x="307" y="18">（調 整 控 除 後）</text></g>
<text x="61" y="45" font-size="13" text-anchor="middle">給与・賞与</text>
<g font-size="5"><text x="124" y="28">内</text><text x="495" y="28">内</text><text x="208" y="28">千</text><text x="332" y="28">千</text><text x="453" y="28">千</text><text x="580" y="28">千</text><text x="238" y="28">円</text><text x="362" y="28">円</text><text x="486" y="28">円</text><text x="611" y="28">円</text></g>
<g font-size="13" text-anchor="end"><text x="180" y="53">2</text><text x="213" y="53">135</text><text x="244" y="53">537</text><text x="305" y="53">1</text><text x="337" y="53">412</text><text x="368" y="53">400</text><text x="431" y="53">2</text><text x="458" y="53">495</text><text x="491" y="53">301</text><text x="617" y="53">0</text></g>
<g text-anchor="middle" font-size="6.5"><text x="52" y="71">(源泉) 控除対象配偶者</text><text x="32" y="83">の 有 無 等</text><text x="162" y="72" font-size="8">配 偶 者 （ 特 別 ）</text><text x="162" y="87" font-size="8">控　除　の　額</text><text x="346" y="68" font-size="7">控　除　対　象　扶　養　親　族　の　数</text><text x="346" y="80" font-size="7">（　配　偶　者　を　除　く　。）</text><text x="549" y="68" font-size="7">障 害 者 の 数</text><text x="549" y="80" font-size="7">（本人を除く。）</text><text x="492" y="68" font-size="6">16歳未満</text><text x="492" y="75" font-size="6">扶養親族</text><text x="492" y="82" font-size="6">の数</text></g>
<g text-anchor="middle" font-size="5"><text x="84" y="94">老人</text><text x="257" y="94">特　定</text><text x="347" y="94">老　人</text><text x="437" y="94">そ の 他</text><text x="535" y="94">特 別</text><text x="572" y="94">その他</text><text x="603" y="66">非居住者</text><text x="603" y="76">である</text><text x="603" y="94">親族の数</text><text x="16" y="104">有</text><text x="48" y="104">従有</text><text x="186" y="104">千</text><text x="216" y="104">円</text><text x="254" y="104">人</text><text x="275" y="104">従人</text><text x="322" y="104">内</text><text x="366" y="104">人</text><text x="387" y="104">従人</text><text x="437" y="104">人</text><text x="457" y="104">従人</text><text x="508" y="104">人</text><text x="538" y="104">内</text><text x="556" y="104">人</text><text x="583" y="104">人</text><text x="615" y="104">人</text></g>
<g text-anchor="middle" font-size="10"><text x="16" y="126">＊</text><text x="84" y="126">＊</text></g>
<g font-size="13" text-anchor="end"><text x="189" y="128">480</text><text x="219" y="128">000</text></g>
<text x="421" y="128" font-size="12" text-anchor="middle">3</text>
<g text-anchor="middle" font-size="8"><text x="77" y="142">社会保険料等の金額</text><text x="232" y="142">生命保険料の控除額</text><text x="387" y="142">地震保険料の控除額</text><text x="542" y="142">住宅借入金等特別控除の額</text></g>
<g font-size="5"><text x="3" y="154">内</text><text x="88" y="154">千</text><text x="150" y="154">円</text><text x="243" y="154">千</text><text x="306" y="154">円</text><text x="398" y="154">千</text><text x="461" y="154">円</text><text x="553" y="154">千</text><text x="614" y="154">円</text></g>
<text x="123" y="164" font-size="7" text-anchor="middle">0</text>
<g font-size="13" text-anchor="middle"><text x="76" y="180">395</text><text x="123" y="180">301</text><text x="278" y="180">0</text><text x="433" y="180">0</text><text x="588" y="180">0</text></g>
</g>

<g transform="translate(22,3744)">
<rect width="619" height="182" fill="#fff" stroke="#000" stroke-width="2"/>
<path d="M0 21H619M0 58H619M0 97H619M0 131H619M0 147H619M122 0V58M245 0V58M370 0V58M493 0V58M182 21V58M215 21V58M307 21V58M339 21V58M433 21V58M460 21V58M555 21V58M587 21V58M103 58V131M221 58V131M472 58V131M512 58V131M587 58V131M65 84H103M65 84V131M0 106H65M32 97V131M221 84H472M293 84V131M402 84V131M512 84H587M558 84V131M190 97V131M257 97V131M369 97V131M440 97V131M155 131V182M310 131V182M465 131V182M92 147V182M247 147V182M402 147V182M557 147V182" stroke="#000" stroke-width="1.5" fill="none"/>
<path d="M330 99V131M548 99V131" stroke="#000" stroke-dasharray="2 2" stroke-width="1.5"/>
<g text-anchor="middle" font-size="9"><text x="61" y="15">種　　　別</text><text x="183" y="15">支　払　金　額</text><text x="431" y="15">所得控除の額の合計額</text><text x="556" y="15">源 泉 徴 収 税 額</text></g>
<g text-anchor="middle" font-size="6"><text x="307" y="9">給与所得控除後の金額</text><text x="307" y="18">（調 整 控 除 後）</text></g>
<text x="61" y="45" font-size="13" text-anchor="middle">給与・賞与</text>
<g font-size="5"><text x="124" y="28">内</text><text x="495" y="28">内</text><text x="208" y="28">千</text><text x="332" y="28">千</text><text x="453" y="28">千</text><text x="580" y="28">千</text><text x="238" y="28">円</text><text x="362" y="28">円</text><text x="486" y="28">円</text><text x="611" y="28">円</text></g>
<g font-size="13" text-anchor="end"><text x="180" y="53">2</text><text x="213" y="53">135</text><text x="244" y="53">552</text><text x="305" y="53">1</text><text x="337" y="53">412</text><text x="368" y="53">400</text><text x="431" y="53">2</text><text x="458" y="53">495</text><text x="491" y="53">286</text><text x="617" y="53">0</text></g>
<g text-anchor="middle" font-size="6.5"><text x="52" y="71">(源泉) 控除対象配偶者</text><text x="32" y="83">の 有 無 等</text><text x="162" y="72" font-size="8">配 偶 者 （ 特 別 ）</text><text x="162" y="87" font-size="8">控　除　の　額</text><text x="346" y="68" font-size="7">控　除　対　象　扶　養　親　族　の　数</text><text x="346" y="80" font-size="7">（　配　偶　者　を　除　く　。）</text><text x="549" y="68" font-size="7">障 害 者 の 数</text><text x="549" y="80" font-size="7">（本人を除く。）</text><text x="492" y="68" font-size="6">16歳未満</text><text x="492" y="75" font-size="6">扶養親族</text><text x="492" y="82" font-size="6">の数</text></g>
<g text-anchor="middle" font-size="5"><text x="84" y="94">老人</text><text x="257" y="94">特　定</text><text x="347" y="94">老　人</text><text x="437" y="94">そ の 他</text><text x="535" y="94">特 別</text><text x="572" y="94">その他</text><text x="603" y="66">非居住者</text><text x="603" y="76">である</text><text x="603" y="94">親族の数</text><text x="16" y="104">有</text><text x="48" y="104">従有</text><text x="186" y="104">千</text><text x="216" y="104">円</text><text x="254" y="104">人</text><text x="275" y="104">従人</text><text x="322" y="104">内</text><text x="366" y="104">人</text><text x="387" y="104">従人</text><text x="437" y="104">人</text><text x="457" y="104">従人</text><text x="508" y="104">人</text><text x="538" y="104">内</text><text x="556" y="104">人</text><text x="583" y="104">人</text><text x="615" y="104">人</text></g>
<g text-anchor="middle" font-size="10"><text x="16" y="126">＊</text><text x="84" y="126">＊</text></g>
<g font-size="13" text-anchor="end"><text x="189" y="128">480</text><text x="219" y="128">000</text></g>
<text x="421" y="128" font-size="12" text-anchor="middle">3</text>
<g text-anchor="middle" font-size="8"><text x="77" y="142">社会保険料等の金額</text><text x="232" y="142">生命保険料の控除額</text><text x="387" y="142">地震保険料の控除額</text><text x="542" y="142">住宅借入金等特別控除の額</text></g>
<g font-size="5"><text x="3" y="154">内</text><text x="88" y="154">千</text><text x="150" y="154">円</text><text x="243" y="154">千</text><text x="306" y="154">円</text><text x="398" y="154">千</text><text x="461" y="154">円</text><text x="553" y="154">千</text><text x="614" y="154">円</text></g>
<text x="123" y="164" font-size="7" text-anchor="middle">0</text>
<g font-size="13" text-anchor="middle"><text x="76" y="178">395</text><text x="123" y="178">286</text><text x="278" y="178">0</text><text x="433" y="178">0</text><text x="588" y="178">0</text></g>
</g>

<g transform="translate(21,3993)">
<rect width="619" height="182" fill="#fff" stroke="#000" stroke-width="2"/>
<path d="M0 21H619M0 58H619M0 97H619M0 131H619M0 147H619M122 0V58M245 0V58M370 0V58M493 0V58M182 21V58M215 21V58M307 21V58M339 21V58M433 21V58M460 21V58M555 21V58M587 21V58M103 58V131M221 58V131M472 58V131M512 58V131M587 58V131M65 84H103M65 84V131M0 106H65M32 97V131M221 84H472M293 84V131M402 84V131M512 84H587M558 84V131M190 97V131M257 97V131M369 97V131M440 97V131M155 131V182M310 131V182M465 131V182M92 147V182M247 147V182M402 147V182M557 147V182" stroke="#000" stroke-width="1.5" fill="none"/>
<path d="M330 99V131M548 99V131" stroke="#000" stroke-dasharray="2 2" stroke-width="1.5"/>
<g text-anchor="middle" font-size="9"><text x="61" y="15">種　　　別</text><text x="183" y="15">支　払　金　額</text><text x="431" y="15">所得控除の額の合計額</text><text x="556" y="15">源 泉 徴 収 税 額</text></g>
<g text-anchor="middle" font-size="6"><text x="307" y="9">給与所得控除後の金額</text><text x="307" y="18">（調 整 控 除 後）</text></g>
<text x="61" y="45" font-size="13" text-anchor="middle">給与・賞与</text>
<g font-size="5"><text x="124" y="28">内</text><text x="495" y="28">内</text><text x="208" y="28">千</text><text x="332" y="28">千</text><text x="453" y="28">千</text><text x="580" y="28">千</text><text x="238" y="28">円</text><text x="362" y="28">円</text><text x="486" y="28">円</text><text x="611" y="28">円</text></g>
<g font-size="13" text-anchor="end"><text x="180" y="53">2</text><text x="213" y="53">135</text><text x="244" y="53">537</text><text x="305" y="53">1</text><text x="337" y="53">412</text><text x="368" y="53">400</text><text x="431" y="53">2</text><text x="458" y="53">495</text><text x="491" y="53">286</text><text x="617" y="53">0</text></g>
<g text-anchor="middle" font-size="6.5"><text x="52" y="71">(源泉) 控除対象配偶者</text><text x="32" y="83">の 有 無 等</text><text x="162" y="72" font-size="8">配 偶 者 （ 特 別 ）</text><text x="162" y="87" font-size="8">控　除　の　額</text><text x="346" y="68" font-size="7">控　除　対　象　扶　養　親　族　の　数</text><text x="346" y="80" font-size="7">（　配　偶　者　を　除　く　。）</text><text x="549" y="68" font-size="7">障 害 者 の 数</text><text x="549" y="80" font-size="7">（本人を除く。）</text><text x="492" y="68" font-size="6">16歳未満</text><text x="492" y="75" font-size="6">扶養親族</text><text x="492" y="82" font-size="6">の数</text></g>
<g text-anchor="middle" font-size="5"><text x="84" y="94">老人</text><text x="257" y="94">特　定</text><text x="347" y="94">老　人</text><text x="437" y="94">そ の 他</text><text x="535" y="94">特 別</text><text x="572" y="94">その他</text><text x="603" y="66">非居住者</text><text x="603" y="76">である</text><text x="603" y="94">親族の数</text><text x="16" y="104">有</text><text x="48" y="104">従有</text><text x="186" y="104">千</text><text x="216" y="104">円</text><text x="254" y="104">人</text><text x="275" y="104">従人</text><text x="322" y="104">内</text><text x="366" y="104">人</text><text x="387" y="104">従人</text><text x="437" y="104">人</text><text x="457" y="104">従人</text><text x="508" y="104">人</text><text x="538" y="104">内</text><text x="556" y="104">人</text><text x="583" y="104">人</text><text x="615" y="104">人</text></g>
<g text-anchor="middle" font-size="10"><text x="16" y="126">＊</text><text x="84" y="126">＊</text></g>
<g font-size="13" text-anchor="end"><text x="189" y="128">480</text><text x="219" y="128">000</text></g>
<text x="421" y="128" font-size="12" text-anchor="middle">3</text>
<g text-anchor="middle" font-size="8"><text x="77" y="142">社会保険料等の金額</text><text x="232" y="142">生命保険料の控除額</text><text x="387" y="142">地震保険料の控除額</text><text x="542" y="142">住宅借入金等特別控除の額</text></g>
<g font-size="5"><text x="3" y="154">内</text><text x="88" y="154">千</text><text x="150" y="154">円</text><text x="243" y="154">千</text><text x="306" y="154">円</text><text x="398" y="154">千</text><text x="461" y="154">円</text><text x="553" y="154">千</text><text x="614" y="154">円</text></g>
<text x="123" y="164" font-size="7" text-anchor="middle">0</text>
<g font-size="13" text-anchor="middle"><text x="76" y="178">395</text><text x="123" y="178">286</text><text x="278" y="178">0</text><text x="433" y="178">0</text><text x="588" y="178">0</text></g>
</g>

<g transform="translate(20,4298)">
<rect width="619" height="182" fill="#fff" stroke="#000" stroke-width="2"/>
<path d="M0 21H619M0 58H619M0 97H619M0 131H619M0 147H619M122 0V58M245 0V58M370 0V58M493 0V58M182 21V58M215 21V58M307 21V58M339 21V58M433 21V58M460 21V58M555 21V58M587 21V58M103 58V131M221 58V131M472 58V131M512 58V131M587 58V131M65 84H103M65 84V131M0 106H65M32 97V131M221 84H472M293 84V131M402 84V131M512 84H587M558 84V131M190 97V131M257 97V131M369 97V131M440 97V131M155 131V182M310 131V182M465 131V182M92 147V182M247 147V182M402 147V182M557 147V182" stroke="#000" stroke-width="1.5" fill="none"/>
<path d="M330 99V131M548 99V131" stroke="#000" stroke-dasharray="2 2" stroke-width="1.5"/>
<g text-anchor="middle" font-size="9"><text x="61" y="15">種　　　別</text><text x="183" y="15">支　払　金　額</text><text x="431" y="15">所得控除の額の合計額</text><text x="556" y="15">源 泉 徴 収 税 額</text></g>
<g text-anchor="middle" font-size="6"><text x="307" y="9">給与所得控除後の金額</text><text x="307" y="18">（調 整 控 除 後）</text></g>
<text x="61" y="45" font-size="13" text-anchor="middle">給与・賞与</text>
<g font-size="5"><text x="124" y="28">内</text><text x="495" y="28">内</text><text x="208" y="28">千</text><text x="332" y="28">千</text><text x="453" y="28">千</text><text x="580" y="28">千</text><text x="238" y="28">円</text><text x="362" y="28">円</text><text x="486" y="28">円</text><text x="611" y="28">円</text></g>
<g font-size="13" text-anchor="end"><text x="180" y="53">2</text><text x="213" y="53">135</text><text x="244" y="53">537</text><text x="305" y="53">1</text><text x="337" y="53">412</text><text x="368" y="53">400</text><text x="431" y="53">2</text><text x="458" y="53">495</text><text x="491" y="53">301</text><text x="617" y="53">0</text></g>
<g text-anchor="middle" font-size="6.5"><text x="52" y="71">(源泉) 控除対象配偶者</text><text x="32" y="83">の 有 無 等</text><text x="162" y="72" font-size="8">配 偶 者 （ 特 別 ）</text><text x="162" y="87" font-size="8">控　除　の　額</text><text x="346" y="68" font-size="7">控　除　対　象　扶　養　親　族　の　数</text><text x="346" y="80" font-size="7">（　配　偶　者　を　除　く　。）</text><text x="549" y="68" font-size="7">障 害 者 の 数</text><text x="549" y="80" font-size="7">（本人を除く。）</text><text x="492" y="68" font-size="6">16歳未満</text><text x="492" y="75" font-size="6">扶養親族</text><text x="492" y="82" font-size="6">の数</text></g>
<g text-anchor="middle" font-size="5"><text x="84" y="94">老人</text><text x="257" y="94">特　定</text><text x="347" y="94">老　人</text><text x="437" y="94">そ の 他</text><text x="535" y="94">特 別</text><text x="572" y="94">その他</text><text x="603" y="66">非居住者</text><text x="603" y="76">である</text><text x="603" y="94">親族の数</text><text x="16" y="104">有</text><text x="48" y="104">従有</text><text x="186" y="104">千</text><text x="216" y="104">円</text><text x="254" y="104">人</text><text x="275" y="104">従人</text><text x="322" y="104">内</text><text x="366" y="104">人</text><text x="387" y="104">従人</text><text x="437" y="104">人</text><text x="457" y="104">従人</text><text x="508" y="104">人</text><text x="538" y="104">内</text><text x="556" y="104">人</text><text x="583" y="104">人</text><text x="615" y="104">人</text></g>
<g text-anchor="middle" font-size="10"><text x="16" y="126">＊</text><text x="84" y="126">＊</text></g>
<g font-size="13" text-anchor="end"><text x="189" y="128">480</text><text x="219" y="128">000</text></g>
<text x="421" y="128" font-size="12" text-anchor="middle">3</text>
<g text-anchor="middle" font-size="8"><text x="77" y="142">社会保険料等の金額</text><text x="232" y="142">生命保険料の控除額</text><text x="387" y="142">地震保険料の控除額</text><text x="542" y="142">住宅借入金等特別控除の額</text></g>
<g font-size="5"><text x="3" y="154">内</text><text x="88" y="154">千</text><text x="150" y="154">円</text><text x="243" y="154">千</text><text x="306" y="154">円</text><text x="398" y="154">千</text><text x="461" y="154">円</text><text x="553" y="154">千</text><text x="614" y="154">円</text></g>
<text x="123" y="164" font-size="7" text-anchor="middle">0</text>
<g font-size="13" text-anchor="middle"><text x="76" y="178">395</text><text x="123" y="178">301</text><text x="278" y="178">0</text><text x="433" y="178">0</text><text x="588" y="178">0</text></g>
</g>

<g fill="none" stroke="#e60012" stroke-width="3">
<rect x="10" y="1587" width="155" height="53"/><rect x="8" y="1836" width="156" height="52"/>
<rect x="22" y="3873" width="155" height="53"/><rect x="21" y="4122" width="155" height="53"/><rect x="19" y="4427" width="156" height="54"/>
<path d="M240 4183L179 4150" marker-end="url(#ar)"/><path d="M235 4492L179 4455" marker-end="url(#ar)"/>
</g>
</svg>

<div class="co" style="left:781px;top:225px;width:222px;height:31px;line-height:25px">差額を7月の給与計算で精算します。</div>
<div class="co" style="left:191px;top:656px;width:158px;height:34px;line-height:28px">1,838+1（精算額）</div>
<div class="co" style="left:485px;top:655px;width:174px;height:34px;line-height:28px">18,483+9（精算額）</div>
<div class="co" style="left:783px;top:655px;width:174px;height:34px;line-height:28px">10,100+5（精算額）</div>
<div class="co" style="left:948px;top:882px;width:67px;height:35px;line-height:29px">精算額</div>
<div class="co" style="left:729px;top:1161px;width:296px;height:124px;padding-top:6px;font-size:12px;line-height:22px">精算額を社会保険項目に反映するため、台帳情報<br>(A)は精算額を合算した金額になります。<br>7月給与の差額は6月賞与の差額を精算したことに<br>よる差額なので、7月給与の差額を精算する必要は<br>ありません。</div>
<div class="co" style="left:98px;top:1896px;width:247px;height:78px;padding-top:3px">精算額計15（5+1+9）<br>が反映されているため<br>正しい金額での年末調整ができています。</div>
<div class="cb" style="left:215px;top:2418px;width:123px;height:33px">精算額の反映なし</div>
<div class="cb" style="left:412px;top:2420px;width:123px;height:33px">精算額の反映なし</div>
<div class="cb" style="left:812px;top:2418px;width:123px;height:33px">精算額の反映なし</div>
<div class="co" style="left:524px;top:2465px;width:217px;height:33px;line-height:27px">31,633+（5+1+9（精算額））</div>
<div class="co" style="left:960px;top:2663px;width:68px;height:34px;line-height:28px">精算額</div>
<div class="co" style="left:740px;top:2984px;width:267px;height:54px;padding-top:2px">精算額を社会保険項目に反映しないため<br>台帳情報（A）には精算額が合算されません。</div>
<div class="co" style="left:110px;top:4183px;width:258px;height:56px;padding-top:3px">精算額が反映されていないため<br>正しい金額での年末調整ができていません。</div>
<div class="co" style="left:112px;top:4492px;width:250px;height:76px;padding-top:3px">精算額計（15）<br>が反映されているため<br>正しい金額での年末調整ができています。</div>

</div></body></html>
